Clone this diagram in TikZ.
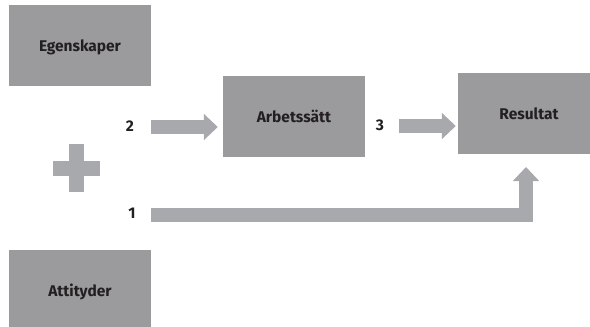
\documentclass[tikz,border=0pt]{standalone}
\usepackage{fontspec}
\setmainfont{Fira Sans}
\usetikzlibrary{arrows.meta}
\definecolor{boxgray}{RGB}{155,155,158}
\definecolor{arrowgray}{RGB}{168,169,172}
\definecolor{txt}{RGB}{35,31,32}
\tikzset{
  box/.style={fill=boxgray, draw=none, minimum width=142pt, minimum height=81pt,
    inner sep=0pt, text height=11pt, text depth=0pt, font=\fontsize{15.5}{18}\selectfont\bfseries, text=txt},
  num/.style={inner sep=0pt, text height=11pt, text depth=0pt, font=\fontsize{15.5}{18}\selectfont\bfseries, text=txt},
  fat/.style={draw=arrowgray, line width=13.5pt, line join=miter, line cap=butt,
    -{Triangle[width=25.5pt,length=14pt]}},
}
\begin{document}
\begin{tikzpicture}[x=1pt,y=-1pt]
\useasboundingbox (0,0) rectangle (590,327);
\clip (0,0) rectangle (590,327);
\node[box] (eg) at (80,45.5) {Egenskaper};
\node[box] (at) at (80,290.5) {Attityder};
\node[box] (arb) at (294,116.5) {Arbetssätt};
\node[box] (res) at (529,113.5) {Resultat};
% plus sign
\fill[arrowgray] (53,160.5) rectangle (100,175.5);
\fill[arrowgray] (68.5,144) rectangle (83.5,192);
% labels
\node[num] (n2) at (130,125.5) {2};
\node[num] (n3) at (380,125) {3};
\node[num] (n1) at (132,213) {1};
% arrows
\coordinate (s2) at (151,127);
\coordinate (s3) at (399,126);
\coordinate (s1) at (151,215);
\coordinate (e1) at (526,154);
\draw[fat, shorten >=5pt] (s2) -- (arb.west |- s2);
\draw[fat, shorten >=2pt] (s3) -- (res.west |- s3);
\draw[fat, shorten >=13pt] (s1) -| (e1);
\end{tikzpicture}
\end{document}
